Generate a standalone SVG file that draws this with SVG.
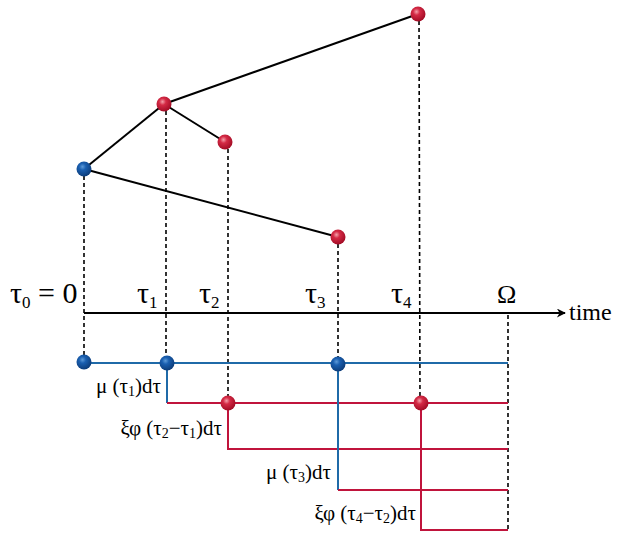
<svg xmlns="http://www.w3.org/2000/svg" width="623" height="535" viewBox="0 0 623 535">
<defs>
<radialGradient id="gr" cx="0.4" cy="0.35" r="0.65">
<stop offset="0" stop-color="#f4a0aa"/>
<stop offset="0.35" stop-color="#d42a45"/>
<stop offset="1" stop-color="#a30c25"/>
</radialGradient>
<radialGradient id="gb" cx="0.4" cy="0.35" r="0.65">
<stop offset="0" stop-color="#5d9ad8"/>
<stop offset="0.35" stop-color="#1a5fb0"/>
<stop offset="1" stop-color="#0d3d7a"/>
</radialGradient>
<marker id="arr" viewBox="0 0 10 10" refX="9" refY="5" markerWidth="12" markerHeight="9" markerUnits="userSpaceOnUse" orient="auto">
<path d="M0,0 L10,5 L0,10 L3,5 z" fill="#000"/>
</marker>
<style>
.e{stroke:#000;stroke-width:2;fill:none}
.d{stroke:#000;stroke-width:1.6;stroke-dasharray:4,3;fill:none}
.b{stroke:#1f6aa8;stroke-width:2;fill:none}
.r{stroke:#c0143c;stroke-width:2;fill:none}
.t{font-family:"Liberation Serif","DejaVu Serif",serif;fill:#000}
.big{font-size:30px}
.bsub{font-size:17px}
.sm{font-size:21px}
.sub{font-size:14px}
</style>
</defs>
<g id="connectors">
<line class="e" x1="84" y1="169" x2="164" y2="104"/>
<line class="e" x1="164" y1="104" x2="225" y2="142"/>
<line class="e" x1="164" y1="104" x2="418" y2="14"/>
<line class="e" x1="84" y1="169" x2="338" y2="237"/>
<line class="d" x1="84" y1="169" x2="84" y2="361"/>
<line class="d" x1="166" y1="104" x2="166" y2="363"/>
<line class="d" x1="228" y1="142" x2="228" y2="403"/>
<line class="d" x1="338" y1="237" x2="338" y2="364"/>
<line class="d" x1="419" y1="14" x2="420" y2="403"/>
<line class="d" x1="508" y1="315" x2="508" y2="531"/>
<line x1="84" y1="313" x2="565" y2="313" stroke="#000" stroke-width="2" marker-end="url(#arr)"/>
<path class="b" d="M84,363 H508"/>
<path class="b" d="M167,363 V403"/>
<path class="r" d="M167,403 H508"/>
<path class="r" d="M228,403 V449 H508"/>
<path class="b" d="M338,364 V490"/>
<path class="r" d="M338,490 H508"/>
<path class="r" d="M421,403 V530 H508"/>
</g>
<g id="n1"><circle cx="84" cy="169" r="7.5" fill="url(#gb)"/></g>
<g id="n2"><circle cx="164" cy="104" r="7.5" fill="url(#gr)"/></g>
<g id="n3"><circle cx="225" cy="142" r="7.5" fill="url(#gr)"/></g>
<g id="n4"><circle cx="338" cy="237" r="7.5" fill="url(#gr)"/></g>
<g id="n5"><circle cx="418" cy="14" r="7.5" fill="url(#gr)"/></g>
<g id="b1"><circle cx="84" cy="362" r="7.5" fill="url(#gb)"/></g>
<g id="b2"><circle cx="167" cy="363" r="7.5" fill="url(#gb)"/></g>
<g id="b3"><circle cx="338" cy="364" r="7.5" fill="url(#gb)"/></g>
<g id="r1"><circle cx="228" cy="403" r="7.5" fill="url(#gr)"/></g>
<g id="r2"><circle cx="421" cy="403" r="7.5" fill="url(#gr)"/></g>
<g id="labels">
<text class="t big" x="10" y="303">τ<tspan class="bsub" dy="5">0</tspan><tspan dy="-5"> = 0</tspan></text>
<text class="t big" x="137" y="303">τ<tspan class="bsub" dy="5">1</tspan></text>
<text class="t big" x="199" y="303">τ<tspan class="bsub" dy="5">2</tspan></text>
<text class="t big" x="305" y="303">τ<tspan class="bsub" dy="5">3</tspan></text>
<text class="t big" x="391" y="303">τ<tspan class="bsub" dy="5">4</tspan></text>
<text class="t" style="font-size:26px" x="497" y="303">Ω</text>
<text class="t" style="font-size:24px" x="569" y="320">time</text>
<text class="t sm" x="161" y="393" text-anchor="end">μ (τ<tspan class="sub" dy="3">1</tspan><tspan dy="-3">)dτ</tspan></text>
<text class="t sm" x="222" y="435" text-anchor="end">ξφ (τ<tspan class="sub" dy="3">2</tspan><tspan dy="-3">−τ</tspan><tspan class="sub" dy="3">1</tspan><tspan dy="-3">)dτ</tspan></text>
<text class="t sm" x="331" y="479" text-anchor="end">μ (τ<tspan class="sub" dy="3">3</tspan><tspan dy="-3">)dτ</tspan></text>
<text class="t sm" x="416" y="520" text-anchor="end">ξφ (τ<tspan class="sub" dy="3">4</tspan><tspan dy="-3">−τ</tspan><tspan class="sub" dy="3">2</tspan><tspan dy="-3">)dτ</tspan></text>
</g>
</svg>
